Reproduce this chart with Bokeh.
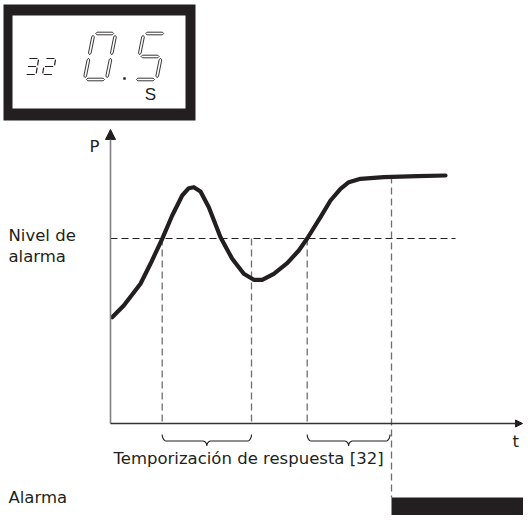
import numpy as np
from bokeh.plotting import figure
from bokeh.models import Range1d, Arrow, NormalHead
from bokeh.core.properties import value
from bokeh.embed import file_html
from bokeh.resources import INLINE

# ---------------- data (diagram units) ----------------
curve_t = [111.7, 123.3, 140.0, 150.0, 161.7, 171.7, 181.7, 188.3, 193.3, 200.0,
           208.3, 220.0, 231.7, 243.3, 253.3, 261.7, 273.3, 286.7, 298.3, 306.7,
           320.0, 330.0, 340.0, 348.3, 360.0, 383.3, 416.7, 445.0]
curve_p = [316.7, 305.0, 283.3, 263.3, 238.3, 215.0, 195.0, 187.7, 186.7, 191.0,
           206.7, 236.7, 258.3, 273.3, 279.3, 279.3, 273.3, 262.7, 250.0, 238.0,
           216.7, 200.0, 188.3, 181.7, 178.3, 176.7, 175.7, 175.0]
alarm_level = 238
crossings = [161.7, 251.0, 306.7]
alarm_on_t = 391.0
alarm_on_p = 176.0
delay_starts = [161.7, 306.7]
delay_ends = [251.0, 389.5]
alarm_end_t = 523.0
display_small = "32"
display_big = "0.5"
display_unit = "S"
labels = ["P", "t", "Nivel de", "alarma", "Temporización de respuesta [32]", "Alarma"]

INK = "#231f20"
GREY = "#808080"
DASH = "#6d6e71"
FONT = value("DejaVu Sans")

W, H = 523, 515
p = figure(width=W, height=H, x_range=Range1d(0, W), y_range=Range1d(H, 0),
           output_backend="svg", toolbar_location=None, min_border=0)
p.axis.visible = False
p.grid.visible = False
p.outline_line_color = None
p.background_fill_color = "white"

# ---------------- display box ----------------
p.quad(left=3, right=195, top=4, bottom=120, fill_color=INK, line_color=None)
p.quad(left=12, right=185, top=15, bottom=108, fill_color="white", line_color=None)

SEGS = {'0': 'abcdef', '1': 'bc', '2': 'abged', '3': 'abgcd', '4': 'fgbc',
        '5': 'afgcd', '6': 'afgedc', '7': 'abc', '8': 'abcdefg', '9': 'abcdfg'}
SEG_UV = {'a': ((0, 1), (1, 1)), 'b': ((1, 1), (1, .5)), 'c': ((1, .5), (1, 0)),
          'd': ((0, 0), (1, 0)), 'e': ((0, 0), (0, .5)), 'f': ((0, .5), (0, 1)),
          'g': ((0, .5), (1, .5))}


def seg_points(x0, yb, w, h, k, seg, gap):
    (u1, v1), (u2, v2) = SEG_UV[seg]
    P = np.array([x0 + u1 * w + k * v1 * h, yb - v1 * h])
    Q = np.array([x0 + u2 * w + k * v2 * h, yb - v2 * h])
    d = (Q - P) / np.linalg.norm(Q - P)
    return P + d * gap, Q - d * gap, d


def digit_string(s, x0, yb, w, h, k, pitch, gap, thick, patches):
    xs, ys = [], []
    x = x0
    for ch in s:
        if ch == '.':
            continue
        for seg in SEGS[ch]:
            P, Q, d = seg_points(x, yb, w, h, k, seg, gap)
            if patches:
                n = np.array([-d[1], d[0]])
                t = thick
                pts = [P, P + d * t + n * t, Q - d * t + n * t, Q, Q - d * t - n * t, P + d * t - n * t]
                xs.append([q[0] for q in pts])
                ys.append([q[1] for q in pts])
            else:
                xs.append([P[0], Q[0]])
                ys.append([P[1], Q[1]])
        x += pitch
    return xs, ys


# small "32"
sx, sy = digit_string(display_small, 25, 74, 10.5, 16, 0.17, 17, 1.2, 0, False)
p.multi_line(sx, sy, line_color=INK, line_width=1.2)
# big "0.5"
bx, by = digit_string(display_big, 84, 79, 22, 46, 0.2, 50, 2.0, 1.3, True)
p.patches(bx, by, fill_color="white", line_color=INK, line_width=0.9)
p.rect(x=[124], y=[78], width=2.4, height=2.4, fill_color=INK, line_color=None)
p.text(x=[150], y=[94], text=[display_unit], text_font=value("Liberation Sans"),
       text_font_size=value("17px"), text_align="center", text_baseline="middle", text_color=INK)

# ---------------- axes ----------------
p.add_layout(Arrow(end=NormalHead(size=10, fill_color=INK, line_color=INK, line_width=1),
                   x_start=110, y_start=423, x_end=110, y_end=129,
                   line_color=GREY, line_width=1.6))
p.add_layout(Arrow(end=NormalHead(size=7, fill_color=INK, line_color=INK, line_width=1),
                   x_start=110, y_start=423, x_end=522, y_end=423,
                   line_color="#333333", line_width=1.4))

# alarm level
p.line([110, 455], [alarm_level, alarm_level], line_color=INK, line_width=1, line_dash="7 4")
# verticals
p.segment(x0=crossings, y0=[alarm_level] * len(crossings), x1=crossings, y1=[423] * len(crossings),
          line_color=DASH, line_width=1.3, line_dash="7 4")
p.segment(x0=[alarm_on_t], y0=[alarm_on_p], x1=[alarm_on_t], y1=[497],
          line_color=DASH, line_width=1.3, line_dash="7 4")

# curve
p.line(curve_t, curve_p, line_color=INK, line_width=4.2, line_join="round", line_cap="round")


# braces
def brace(x0, x1, ytop=434, ymid=440.5, ytip=445.5, r=4.0):
    m = (x0 + x1) / 2
    a = np.linspace(0, np.pi / 2, 6)
    xs = list(x0 + r * (1 - np.cos(a)))
    ys = list(ytop + (ymid - ytop) * np.sin(a))
    xs += list(m - r + r * np.sin(a))
    ys += list(ymid + (ytip - ymid) * (1 - np.cos(a)))
    xs += list(m + r - r * np.cos(a))
    ys += list(ytip - (ytip - ymid) * np.sin(a))
    xs += list(x1 - r + r * np.sin(a))
    ys += list(ymid - (ymid - ytop) * (1 - np.cos(a)))
    return xs, ys


bxs, bys = [], []
for s, e in zip(delay_starts, delay_ends):
    xx, yy = brace(s, e)
    bxs.append(xx)
    bys.append(yy)
p.multi_line(bxs, bys, line_color=INK, line_width=1.1)

# alarm output bar
p.quad(left=[alarm_on_t], right=[alarm_end_t], top=[497], bottom=[H], fill_color=INK, line_color=None)

# labels
lx = [89, 512, 8, 8, 113, 8]
ly = [146, 441, 235, 256, 458, 497]
p.text(x=lx, y=ly, text=labels, text_font=FONT, text_font_size=value("16.5px"),
       text_align="left", text_baseline="middle", text_color=INK)

open("out.html", "w").write(file_html(p, INLINE))
